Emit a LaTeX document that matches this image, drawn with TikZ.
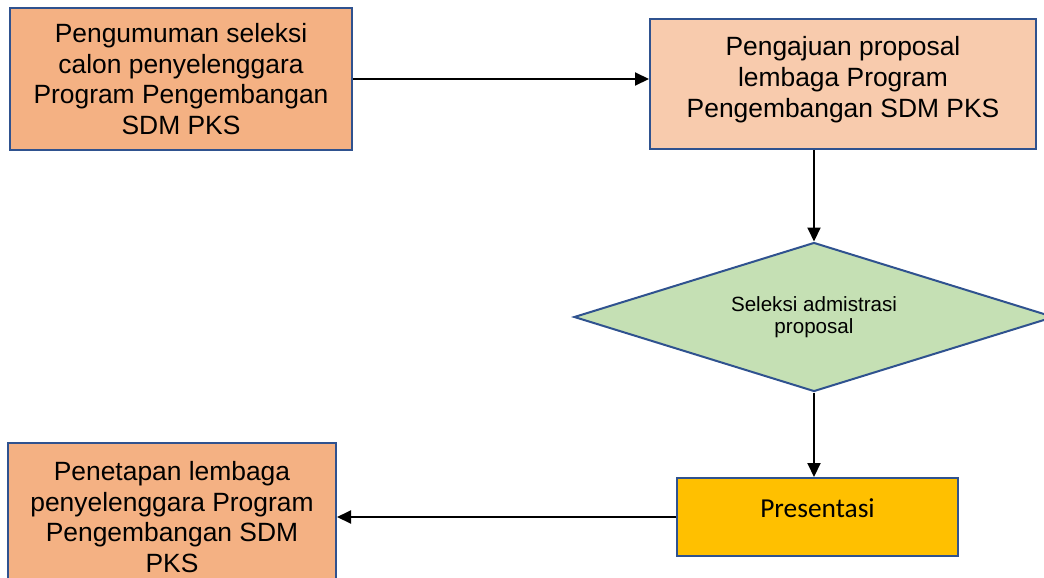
\documentclass[tikz,border=0pt]{standalone}
\usepackage{fontspec}
\setmainfont{Liberation Sans}
\newfontfamily\calfont{Carlito}
\usepackage{tikz}
\usetikzlibrary{positioning}
\usetikzlibrary {arrows.meta}
\usetikzlibrary{shapes.geometric}
\definecolor{oranye}{HTML}{F4B183}
\definecolor{peach}{HTML}{F8CBAD}
\definecolor{hijau}{HTML}{C5E0B4}
\definecolor{kuning}{HTML}{FFC000}
\definecolor{garis}{HTML}{2F528F}
\tikzset{
  kotak/.style={draw=garis,line width=1pt,align=center,inner sep=2pt,
    font=\fontsize{13.2}{15.4}\selectfont},
  belah/.style={diamond,aspect=3.22,draw=garis,line width=1pt,fill=hijau,align=center,
    inner sep=0pt,font=\fontsize{10.3}{11.2}\selectfont},
  panah/.style={line width=1pt,-{Triangle[length=7pt,width=6.5pt]}}
}

\begin{document}
\begin{tikzpicture}[x=0.5pt,y=-0.5pt]
    \clip (0,0) rectangle (1044,578);
    %% kotak atas
    \node[kotak,fill=oranye,minimum width=171pt,minimum height=71pt] (umum) at (181,79)
    {Pengumuman seleksi\\calon penyelenggara\\Program Pengembangan\\SDM PKS};
    \node[kotak,fill=peach,minimum width=193pt,minimum height=65pt,text depth=7pt] (aju) at (843,84)
    {Pengajuan proposal\\lembaga Program\\Pengembangan SDM PKS};
    %% seleksi
    \node[belah,minimum width=240pt,minimum height=74.5pt] (sel) at (814,317)
    {Seleksi admistrasi\\proposal};
    %% kotak bawah
    \node[kotak,fill=kuning,minimum width=140.5pt,minimum height=39pt,text depth=9pt,
    font=\calfont\fontsize{13.7}{16}\selectfont] (pres) at (817.5,517) {Presentasi};
    \node[kotak,fill=oranye,minimum width=164pt,minimum height=74pt] (tetap) at (172,517)
    {Penetapan lembaga\\penyelenggara Program\\Pengembangan SDM\\PKS};
    % panah
    \draw[panah] (umum.east) -- (umum.east -| aju.west);
    \draw[panah] (sel.north |- aju.south) -- (sel.north);
    \draw[panah] (sel.south) -- (sel.south |- pres.north);
    \draw[panah] (pres.west) -- (tetap.east);
\end{tikzpicture}
\end{document}
